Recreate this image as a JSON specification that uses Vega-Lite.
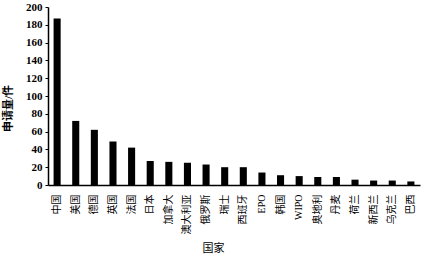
{
  "$schema": "https://vega.github.io/schema/vega-lite/v6.json",
  "width": 372,
  "height": 178,
  "autosize": "none",
  "padding": {"left": 48, "top": 7, "right": 4, "bottom": 71},
  "background": "white",
  "data": {"values": [
    {"country": "中国", "value": 187},
    {"country": "美国", "value": 72},
    {"country": "德国", "value": 62},
    {"country": "英国", "value": 49},
    {"country": "法国", "value": 42},
    {"country": "日本", "value": 27},
    {"country": "加拿大", "value": 26},
    {"country": "澳大利亚", "value": 25},
    {"country": "俄罗斯", "value": 23},
    {"country": "瑞士", "value": 20},
    {"country": "西班牙", "value": 20},
    {"country": "EPO", "value": 14},
    {"country": "韩国", "value": 11},
    {"country": "WIPO", "value": 10},
    {"country": "奥地利", "value": 9},
    {"country": "丹麦", "value": 9},
    {"country": "荷兰", "value": 6},
    {"country": "新西兰", "value": 5},
    {"country": "乌克兰", "value": 5},
    {"country": "巴西", "value": 4}
  ]},
  "mark": {"type": "bar", "color": "black"},
  "encoding": {
    "x": {
      "field": "country", "type": "nominal", "sort": null,
      "scale": {"paddingInner": 0.62, "paddingOuter": 0.3},
      "axis": {
        "title": "国家", "labelAngle": 270, "ticks": false, "domainColor": "black", "domainWidth": 1.5,
        "labelFont": "Liberation Serif, Noto Sans CJK SC", "labelFontSize": 10, "labelColor": "black", "labelPadding": 9,
        "titleFont": "Liberation Serif, Noto Sans CJK SC", "titleFontSize": 11, "titleFontWeight": "normal", "titleColor": "black",
        "titleX": 165, "titleY": 63, "titleBaseline": "middle", "titleAlign": "center", "titleAngle": 0
      }
    },
    "y": {
      "field": "value", "type": "quantitative",
      "scale": {"domain": [0, 200]},
      "axis": {
        "title": "申请量/件", "values": [0,20,40,60,80,100,120,140,160,180,200], "grid": false,
        "domainColor": "black", "domainWidth": 1.5, "tickColor": "black", "tickSize": 3,
        "labelFont": "Liberation Serif", "labelFontSize": 11, "labelFontWeight": "bold", "labelColor": "black", "labelPadding": 3,
        "titleFont": "Liberation Serif, Noto Sans CJK SC", "titleFontSize": 11, "titleFontWeight": "bold", "titleColor": "black",
        "titleX": -40, "titleY": 101, "titleBaseline": "middle", "titleAlign": "center"
      }
    }
  },
  "config": {"view": {"stroke": null}}
}
